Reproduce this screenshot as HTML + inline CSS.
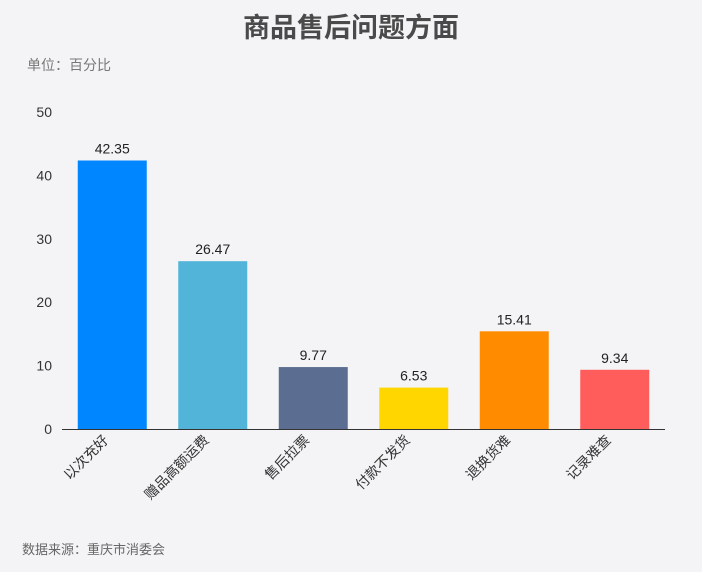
<!DOCTYPE html>
<html><head><meta charset="utf-8"><style>
html,body{margin:0;padding:0;background:#f4f4f6;}
body{width:702px;height:572px;overflow:hidden;font-family:"Liberation Sans","Noto Sans CJK SC",sans-serif;}
</style></head><body>
<svg id="chart" width="702" height="572" xmlns="http://www.w3.org/2000/svg" style="display:block">
<rect width="702" height="572" fill="#f4f4f6"/>
<text x="351" y="37" text-anchor="middle" font-size="27" font-weight="bold" fill="#4a4a4a" font-family="Liberation Sans, Noto Sans CJK SC, sans-serif">商品售后问题方面</text>
<text x="27" y="70" font-size="14" fill="#777" font-family="Liberation Sans, Noto Sans CJK SC, sans-serif">单位：百分比</text>
<text x="22" y="554" font-size="13" fill="#666" font-family="Liberation Sans, Noto Sans CJK SC, sans-serif">数据来源：重庆市消委会</text>
<g id="plot"></g>
</svg>
<script>
const categories = ["以次充好","赠品高额运费","售后拉票","付款不发货","退换货难","记录难查"];
const values = [42.35,26.47,9.77,6.53,15.41,9.34];
const valueLabels = ["42.35","26.47","9.77","6.53","15.41","9.34"];
const yTicks = [0,10,20,30,40,50];
const colors = ["#0086ff","#52b4d9","#5b6e91","#ffd600","#ff8c00","#ff5c5c"];
const NS="http://www.w3.org/2000/svg";
const g=document.getElementById('plot');
const x0=62,x1=665,y0=429,yTop=112,yMax=50;
const band=(x1-x0)/categories.length;
function y(v){return y0-(v/yMax)*(y0-yTop);}
function xc(i){return x0+band*(i+0.5);}
function mk(t,a){const e=document.createElementNS(NS,t);for(const k in a)e.setAttribute(k,a[k]);g.appendChild(e);return e;}
yTicks.forEach(t=>{
  const e=mk('text',{x:52,y:y(t)+5,'text-anchor':'end','font-size':14,fill:'#333'});
  
  
  e.textContent=t;
});
const ax=mk('line',{x1:x0,x2:x1,y1:y0+0.5,y2:y0+0.5,stroke:'#333','stroke-width':1});


const bw=69;
categories.forEach((c,i)=>{
  const r=mk('rect',{x:xc(i)-bw/2,y:y(values[i]),width:bw,height:y0-y(values[i]),fill:colors[i]});
  
  
  const v=mk('text',{x:xc(i),y:y(values[i])-7,'text-anchor':'middle','font-size':14,fill:'#222'});
  
  
  v.textContent=valueLabels[i];
  const lx=xc(i)-3, ly=y0+12;
  const l=mk('text',{x:lx,y:ly,'text-anchor':'end','font-size':14,fill:'#333',transform:`rotate(-45 ${lx} ${ly})`,'font-family':'Liberation Sans, Noto Sans CJK SC, sans-serif'});
  
  
  l.textContent=c;
});
</script>
</body></html>
